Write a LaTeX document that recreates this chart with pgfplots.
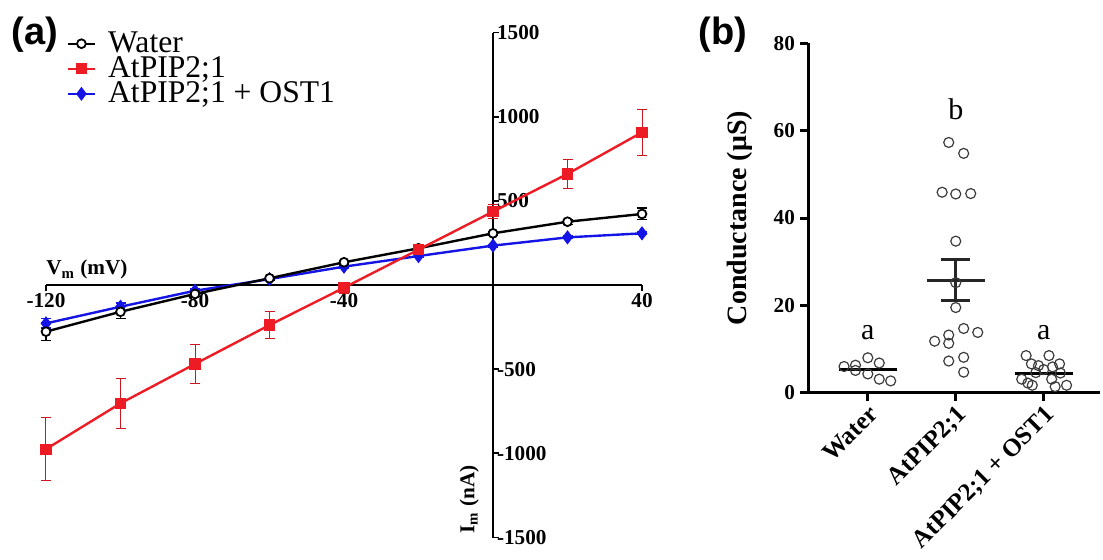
\documentclass[border=0pt]{standalone}
\usepackage{pgfplots}
\pgfplotsset{compat=1.18}
\usepackage{fontspec}
\setmainfont{Liberation Serif}
\newfontfamily\arial{Liberation Sans}
\definecolor{myred}{RGB}{237,28,36}
\definecolor{myblue}{RGB}{20,20,230}
\definecolor{ptgray}{RGB}{60,60,60}
\begin{document}
\begin{tikzpicture}
\useasboundingbox (0,0) rectangle (551.5pt,279.5pt);
\begin{axis}[
  at={(23pt,10.75pt)}, anchor=south west, scale only axis,
  width=298pt, height=252.5pt,
  xmin=-120, xmax=40, ymin=-1500, ymax=1500,
  axis lines=middle, axis line style={-, line width=0.9pt},
  xtick={-120,-80,-40,40}, ytick={-1500,-1000,-500,500,1000,1500},
  tick style={black, line width=0.9pt}, major tick length=3pt, tick align=center,
  xtick style={yshift=-1.5pt}, ytick style={xshift=1.5pt},
  ticklabel style={font=\fontsize{10.6}{12}\selectfont\bfseries},
  /pgf/number format/assume math mode=true,
  /pgf/number format/1000 sep={},
  yticklabel style={anchor=west, xshift=0pt},
  xticklabel style={anchor=north, yshift=1pt},
  clip=false,
  legend style={at={(0.034,1.01)}, anchor=north west, draw=none, fill=none,
    font=\fontsize{15.8}{16}\selectfont, row sep=-3.4pt, inner sep=0pt,
    /tikz/every odd column/.append style={column sep=4pt}},
  legend cell align=left,
  legend image code/.code={\draw[mark repeat=2,mark phase=2,#1] plot coordinates {(0cm,0cm)(0.24cm,0cm)(0.48cm,0cm)};},
]
\addlegendimage{black, line width=1.1pt, mark=*, mark size=2.2pt, mark options={fill=white, line width=0.9pt}}
\addlegendentry{Water}
\addlegendimage{myred, line width=1.1pt, mark=square*, mark size=2.2pt}
\addlegendentry{AtPIP2;1}
\addlegendimage{myblue, line width=1.1pt, mark=diamond*, mark size=2.6pt}
\addlegendentry{AtPIP2;1 + OST1}
% AtPIP2;1 + OST1
\addplot[forget plot, myblue, line width=1.2pt, mark=diamond*, mark size=2.6pt,
  error bars/.cd, y dir=both, y explicit, error bar style={line width=0.6pt, myblue}, error mark options={rotate=90, mark size=2.5pt, line width=0.6pt}]
  coordinates {(-120,-228)+-(0,28) (-100,-129)+-(0,22) (-80,-34)+-(0,10) (-60,35)+-(0,8) (-40,109)+-(0,8) (-20,172)+-(0,8) (0,234)+-(0,8) (20,283)+-(0,8) (40,307)+-(0,8)};
% Water
\addplot[forget plot, black, line width=1.2pt, mark=*, mark size=2.2pt, mark options={fill=white, line width=0.9pt},
  error bars/.cd, y dir=both, y explicit, error bar style={line width=0.6pt, black}, error mark options={rotate=90, mark size=2.5pt, line width=0.6pt}]
  coordinates {(-120,-277)+-(0,55) (-100,-159)+-(0,38) (-80,-53)+-(0,15) (-60,40)+-(0,10) (-40,135)+-(0,12) (-20,218)+-(0,10) (0,307)+-(0,12) (20,376)+-(0,15) (40,422)+-(0,35)};
% AtPIP2;1
\addplot[forget plot, myred, line width=1.2pt, mark=square*, mark size=2.2pt,
  error bars/.cd, y dir=both, y explicit, error bar style={line width=0.5pt, myred!85!black}, error mark options={rotate=90, mark size=2.5pt, line width=0.5pt}]
  coordinates {(-120,-975)+-(0,188) (-100,-703)+-(0,150) (-80,-469)+-(0,117) (-60,-238)+-(0,78) (-40,-16)+-(0,32) (-20,210)+-(0,25) (0,436)+-(0,42) (20,660)+-(0,87) (40,907)+-(0,136)};
\node[anchor=base west, inner sep=0pt, font=\fontsize{10.6}{12}\selectfont\bfseries] at (axis cs:-120,60) {V\textsubscript{m} (mV)};
\node[anchor=base west, rotate=90, inner sep=0pt, font=\fontsize{10.6}{12}\selectfont\bfseries] at (axis cs:-5,-1480) {I\textsubscript{m} (nA)};
\end{axis}

\begin{axis}[
  at={(404pt,83.15pt)}, anchor=south west, scale only axis,
  width=146pt, height=174.7pt,
  xmin=-0.68, xmax=2.64, ymin=0, ymax=80,
  axis lines=left, axis line style={-, line width=1.5pt},
  xtick={0,1,2}, xticklabels={Water, AtPIP2;1, AtPIP2;1 + OST1},
  ytick={0,20,40,60,80},
  tick style={black, line width=1.5pt}, major tick length=4pt, tick align=outside,
  yticklabel style={font=\fontsize{10.6}{12}\selectfont\bfseries, xshift=1pt},
  xticklabel style={font=\fontsize{12.5}{14}\selectfont\bfseries, rotate=45, anchor=north east, inner sep=1pt},
  /pgf/number format/assume math mode=true,
  clip=false,
]
\addplot[only marks, mark=o, mark size=2.5pt, ptgray, mark options={line width=0.6pt}]
  coordinates {(-0.27,6.0) (-0.14,6.3) (0,8.0) (0.13,6.8) (-0.14,5.1) (0,4.3) (0.13,3.1) (0.26,2.7)};
\addplot[only marks, mark=o, mark size=2.5pt, ptgray, mark options={line width=0.6pt}]
  coordinates {(0.92,57.3) (1.09,54.8) (0.845,45.9) (1.0,45.5) (1.17,45.6) (1.0,34.7) (1.0,25.2) (1.0,19.5) (1.09,14.7) (0.92,13.2) (1.25,13.8) (0.76,11.8) (0.92,11.3) (0.92,7.25) (1.09,8.1) (1.09,4.7)};
\addplot[only marks, mark=o, mark size=2.5pt, ptgray, mark options={line width=0.6pt}]
  coordinates {(1.8,8.5) (2.06,8.5) (1.86,6.6) (1.94,6.2) (2.18,6.6) (2.1,5.9) (2.0,5.3) (1.75,3.1) (1.82,2.2) (1.87,1.7) (2.09,3.1) (2.13,1.4) (2.26,1.7) (1.91,4.6) (2.19,4.5)};
% means
\addplot[black, line width=1.5pt] coordinates {(-0.33,5.3) (0.33,5.3)};
\addplot[black!85, line width=1.5pt] coordinates {(0.67,25.8) (1.33,25.8)};
\addplot[black, line width=1.5pt] coordinates {(1.67,4.5) (2.33,4.5)};
% SEM
\addplot[black!85, line width=1.5pt] coordinates {(1,21.2) (1,30.5)};
\addplot[black!85, line width=1.5pt] coordinates {(0.835,30.5) (1.165,30.5)};
\addplot[black!85, line width=1.5pt] coordinates {(0.835,21.2) (1.165,21.2)};
\node[anchor=base, font=\fontsize{15}{16}\selectfont] at (axis cs:0,12.2) {a};
\node[anchor=base, font=\fontsize{15}{16}\selectfont] at (axis cs:1,62.6) {b};
\node[anchor=base, font=\fontsize{15}{16}\selectfont] at (axis cs:2,12.2) {a};
\end{axis}
\node[font=\fontsize{14}{16}\selectfont\bfseries, rotate=90] at (370pt,170.5pt) {Conductance (μS)};
\node[font=\arial\fontsize{19}{20}\selectfont\bfseries] at (17.5pt,262pt) {(a)};
\node[font=\arial\fontsize{19}{20}\selectfont\bfseries] at (361.5pt,262pt) {(b)};
\end{tikzpicture}
\end{document}
